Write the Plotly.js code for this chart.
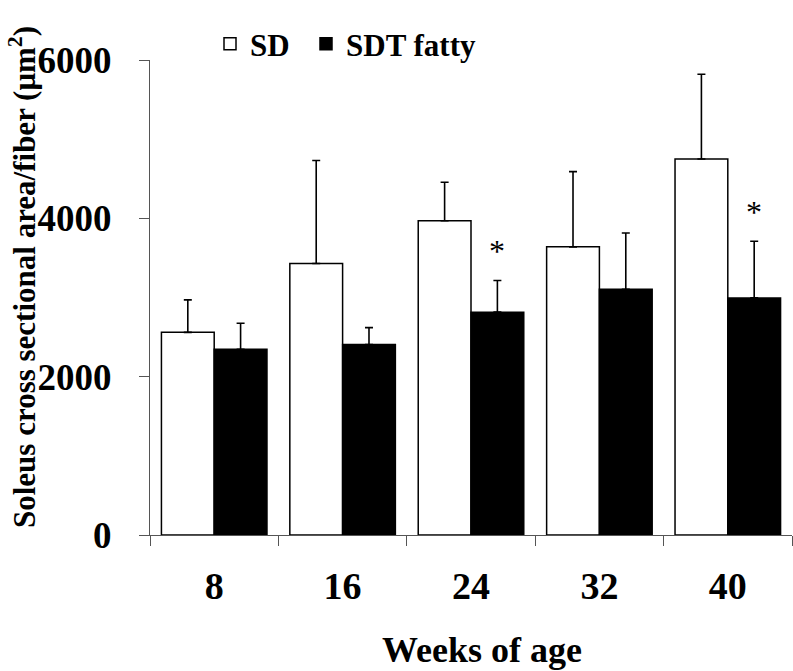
<!DOCTYPE html>
<html>
<head>
<meta charset="utf-8">
<script src="https://cdn.plot.ly/plotly-3.0.1.min.js"></script>
<style>html,body{margin:0;padding:0;background:#fff;}#chart{width:793px;height:671px;}</style>
</head>
<body>
<div id="chart"></div>
<script>
const weeks = ['8', '16', '24', '32', '40'];
const sdMean = [2560, 3430, 3970, 3640, 4750];
const sdErr = [410, 1300, 485, 950, 1070];
const sdtMean = [2345, 2405, 2815, 3105, 2995];
const sdtErr = [330, 215, 400, 710, 715];
const sdtSig = ['', '', '*', '', '*'];
const yTicks = [0, 2000, 4000, 6000];
const xTitle = 'Weeks of age';
const yTitle = 'Soleus cross sectional area/fiber (μm<sup>2</sup>)';

const FONT = 'Liberation Serif, Times New Roman, serif';

const traces = [
  {
    type: 'bar', name: 'SD', x: weeks, y: sdMean, legend: 'legend',
    marker: {color: '#ffffff', line: {color: '#000000', width: 1.5}},
    error_y: {type: 'data', symmetric: false, array: sdErr, arrayminus: sdErr.map(() => 0),
              color: '#000000', thickness: 1.6, width: 4}
  },
  {
    type: 'bar', name: 'SDT fatty', x: weeks, y: sdtMean, legend: 'legend2',
    marker: {color: '#000000', line: {color: '#000000', width: 1.5}},
    error_y: {type: 'data', symmetric: false, array: sdtErr, arrayminus: sdtErr.map(() => 0),
              color: '#000000', thickness: 1.6, width: 4}
  }
];

const annotations = [];
weeks.forEach((w, i) => {
  if (sdtSig[i]) {
    annotations.push({
      x: i, xref: 'x', y: sdtMean[i] + sdtErr[i], yref: 'y',
      text: sdtSig[i], showarrow: false, xshift: 26, yshift: 29,
      xanchor: 'center', yanchor: 'middle',
      font: {family: FONT, size: 32, color: '#000'}
    });
  }
});
annotations.push({
  text: xTitle, xref: 'paper', yref: 'paper', x: (482 - 150) / 642, y: -(650 - 535) / 475,
  xanchor: 'center', yanchor: 'middle', showarrow: false,
  font: {family: FONT, size: 36, color: '#000', weight: 'bold'}
});
annotations.push({
  text: yTitle, xref: 'paper', yref: 'paper', x: (22 - 150) / 642, y: (535 - 277) / 475,
  xanchor: 'center', yanchor: 'middle', showarrow: false, textangle: -90,
  font: {family: FONT, size: 31, color: '#000', weight: 'bold'}
});

const legendBase = {
  orientation: 'h', xanchor: 'left', y: (535 - 44) / 475, yanchor: 'middle',
  font: {family: FONT, size: 31, color: '#000', weight: 'bold'},
  bgcolor: 'rgba(0,0,0,0)', itemwidth: 30
};

const layout = {
  width: 793, height: 671,
  margin: {l: 150, r: 1, t: 60, b: 136},
  paper_bgcolor: '#fff', plot_bgcolor: '#fff',
  barmode: 'group', bargap: 0.178, bargroupgap: 0,
  font: {family: FONT, color: '#000'},
  showlegend: true,
  legend: Object.assign({}, legendBase, {x: (210 - 150) / 642}),
  legend2: Object.assign({}, legendBase, {x: (306 - 150) / 642}),
  xaxis: {
    type: 'category', range: [-0.5, 4.5],
    showline: true, linecolor: '#555', linewidth: 1,
    ticks: 'outside', tickson: 'boundaries', ticklen: 10, tickcolor: '#555', tickwidth: 1,
    ticklabelstandoff: 17,
    tickfont: {family: FONT, size: 38, color: '#000', weight: 'bold'},
    showgrid: false, zeroline: false
  },
  yaxis: {
    range: [0, 6000], tickvals: yTicks, ticktext: yTicks.map(String),
    showline: true, linecolor: '#555', linewidth: 1,
    ticks: 'outside', ticklen: 10, tickcolor: '#555', tickwidth: 1,
    ticklabelstandoff: 20,
    tickfont: {family: FONT, size: 37, color: '#000', weight: 'bold'},
    showgrid: false, zeroline: false
  },
  annotations: annotations
};

Plotly.newPlot('chart', traces, layout, {staticPlot: true, displayModeBar: false});
</script>
</body>
</html>
